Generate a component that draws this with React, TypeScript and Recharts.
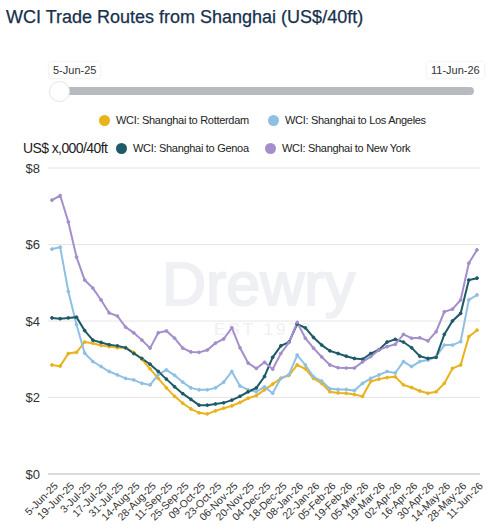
import React from "react";
import { LineChart, Line, XAxis, YAxis, CartesianGrid } from "recharts";

const dates = [
  "5-Jun-25", "12-Jun-25", "19-Jun-25", "26-Jun-25", "3-Jul-25", "10-Jul-25", "17-Jul-25", "24-Jul-25",
  "31-Jul-25", "7-Aug-25", "14-Aug-25", "21-Aug-25", "28-Aug-25", "4-Sep-25", "11-Sep-25", "18-Sep-25",
  "25-Sep-25", "02-Oct-25", "09-Oct-25", "16-Oct-25", "23-Oct-25", "30-Oct-25", "06-Nov-25", "13-Nov-25",
  "20-Nov-25", "27-Nov-25", "04-Dec-25", "11-Dec-25", "18-Dec-25", "25-Dec-25", "08-Jan-26", "15-Jan-26",
  "22-Jan-26", "29-Jan-26", "05-Feb-26", "12-Feb-26", "19-Feb-26", "26-Feb-26", "05-Mar-26", "12-Mar-26",
  "19-Mar-26", "26-Mar-26", "02-Apr-26", "09-Apr-26", "16-Apr-26", "23-Apr-26", "30-Apr-26", "07-May-26",
  "14-May-26", "21-May-26", "28-May-26", "04-Jun-26", "11-Jun-26",
];

const rotterdam = [
  2.85, 2.82, 3.15, 3.18, 3.45, 3.42, 3.36, 3.33, 3.3, 3.3, 3.18, 3.0, 2.75, 2.5, 2.25, 2.03,
  1.85, 1.7, 1.6, 1.57, 1.65, 1.72, 1.78, 1.87, 1.98, 2.05, 2.2, 2.35, 2.5, 2.58, 2.85, 2.75,
  2.5, 2.37, 2.15, 2.12, 2.11, 2.08, 2.03, 2.42, 2.48, 2.52, 2.54, 2.33, 2.26, 2.17, 2.11, 2.15,
  2.37, 2.76, 2.85, 3.59, 3.76,
];

const losAngeles = [
  5.88, 5.93, 4.77, 3.9, 3.16, 2.94, 2.81, 2.68, 2.59, 2.5, 2.46, 2.37, 2.33, 2.6, 2.72, 2.58,
  2.4, 2.25, 2.2, 2.2, 2.25, 2.4, 2.68, 2.3, 2.2, 2.15, 2.28, 2.11, 2.5, 2.6, 3.11, 2.85,
  2.54, 2.43, 2.23, 2.21, 2.21, 2.18, 2.37, 2.5, 2.59, 2.68, 2.64, 2.94, 2.81, 2.94, 2.98, 3.07,
  3.37, 3.37, 3.46, 4.55, 4.68,
];

const genoa = [
  4.08, 4.06, 4.08, 4.1, 3.75, 3.5, 3.44, 3.38, 3.35, 3.3, 3.15, 3.02, 2.87, 2.68, 2.48, 2.28,
  2.1, 1.95, 1.8, 1.8, 1.83, 1.86, 1.93, 2.03, 2.15, 2.25, 2.55, 3.05, 3.35, 3.45, 3.92, 3.82,
  3.57, 3.37, 3.22, 3.15, 3.08, 3.02, 3.0, 3.15, 3.25, 3.45, 3.52, 3.45, 3.3, 3.08, 3.02, 3.05,
  3.65, 4.0, 4.2, 5.07, 5.12,
];

const newYork = [
  7.16, 7.28, 6.59, 5.67, 5.07, 4.86, 4.55, 4.21, 4.13, 3.84, 3.69, 3.5, 3.29, 3.69, 3.74, 3.55,
  3.29, 3.19, 3.18, 3.24, 3.42, 3.53, 3.82, 3.3, 2.9, 2.76, 2.92, 2.74, 3.15, 3.44, 3.96, 3.55,
  3.29, 3.06, 2.85, 2.78, 2.77, 2.77, 2.93, 3.07, 3.24, 3.33, 3.39, 3.65, 3.55, 3.56, 3.48, 3.72,
  4.24, 4.31, 4.55, 5.51, 5.86,
];

const yTicks = [0, 2, 4, 6, 8];

const seriesNames = [
  "WCI: Shanghai to Rotterdam",
  "WCI: Shanghai to Los Angeles",
  "WCI: Shanghai to Genoa",
  "WCI: Shanghai to New York",
];
const seriesKeys = ["rotterdam", "losAngeles", "genoa", "newYork"];
const seriesColors = ["#e8b31c", "#8fc0e4", "#1f5a68", "#a48fcc"];

const data = dates.map((d, i) => ({
  date: d,
  rotterdam: rotterdam[i],
  losAngeles: losAngeles[i],
  genoa: genoa[i],
  newYork: newYork[i],
}));

const FONT = '"Liberation Sans", Arial, Helvetica, sans-serif';

const XTick = (props: any) => {
  const { x, y, payload } = props;
  const ax = x + 4;
  const ay = y + 2;
  return (
    <text
      x={ax}
      y={ay}
      transform={`rotate(-45 ${ax} ${ay})`}
      textAnchor="end"
      fontSize={10.5}
      fill="#333"
      fontFamily={FONT}
      dy="0.35em"
    >
      {payload.value}
    </text>
  );
};

const YTick = (props: any) => {
  const { x, y, payload } = props;
  return (
    <text x={x} y={y} textAnchor="end" fontSize={13} fill="#333" fontFamily={FONT} dy="0.36em">
      {`$${payload.value}`}
    </text>
  );
};

const LegendItem = ({ color, label, left, top }: any) => (
  <div
    style={{
      position: "absolute",
      left,
      top,
      display: "flex",
      alignItems: "center",
      fontFamily: FONT,
      fontSize: 11,
      letterSpacing: -0.3,
      color: "#222",
      whiteSpace: "nowrap",
    }}
  >
    <span
      style={{
        display: "inline-block",
        width: 11,
        height: 11,
        borderRadius: "50%",
        background: color,
        marginRight: 6,
      }}
    />
    {label}
  </div>
);

export default function App() {
  return (
    <div
      style={{
        position: "absolute",
        left: 0,
        top: 0,
        width: 500,
        height: 532,
        background: "#fff",
        overflow: "hidden",
        fontFamily: FONT,
      }}
    >
      <div
        style={{
          position: "absolute",
          left: 6,
          top: 6,
          fontSize: 18,
          lineHeight: "22px",
          color: "#16304d",
          whiteSpace: "nowrap",
          WebkitTextStroke: "0.25px #16304d",
        }}
      >
        WCI Trade Routes from Shanghai (US$/40ft)
      </div>

      {/* range slider */}
      <div
        style={{
          position: "absolute",
          left: 49,
          top: 62,
          padding: "1px 4px",
          fontSize: 11,
          color: "#333",
          background: "#fff",
          boxShadow: "0 0 2px rgba(0,0,0,0.12)",
          lineHeight: "14px",
        }}
      >
        {dates[0]}
      </div>
      <div
        style={{
          position: "absolute",
          left: 427,
          top: 62,
          padding: "1px 4px",
          fontSize: 11,
          color: "#333",
          background: "#fff",
          boxShadow: "0 0 2px rgba(0,0,0,0.12)",
          lineHeight: "14px",
        }}
      >
        {dates[dates.length - 1]}
      </div>
      <div
        style={{
          position: "absolute",
          left: 55,
          top: 87,
          width: 419,
          height: 8,
          borderRadius: 4,
          background: "#b7bbbf",
        }}
      />
      <div
        style={{
          position: "absolute",
          left: 49,
          top: 81,
          width: 19,
          height: 19,
          borderRadius: "50%",
          background: "#fff",
          border: "1px solid #e2e4e6",
        }}
      />

      {/* legend */}
      <LegendItem color={seriesColors[0]} label={seriesNames[0]} left={99} top={114} />
      <LegendItem color={seriesColors[1]} label={seriesNames[1]} left={268} top={114} />
      <div
        style={{
          position: "absolute",
          left: 23,
          top: 140,
          fontSize: 14,
          letterSpacing: -0.6,
          color: "#222",
          whiteSpace: "nowrap",
        }}
      >
        US$ x,000/40ft
      </div>
      <LegendItem color={seriesColors[2]} label={seriesNames[2]} left={116} top={142} />
      <LegendItem color={seriesColors[3]} label={seriesNames[3]} left={265} top={142} />

      {/* watermark */}
      <div
        style={{
          position: "absolute",
          left: 162,
          top: 249,
          fontSize: 61,
          lineHeight: "normal",
          color: "#eef0f3",
          WebkitTextStroke: "2px #eef0f3",
          whiteSpace: "nowrap",
        }}
      >
        Drewry
      </div>
      <div
        style={{
          position: "absolute",
          left: 214,
          top: 320,
          fontSize: 17,
          color: "#eef0f3",
          letterSpacing: 3,
          whiteSpace: "nowrap",
        }}
      >
        EST 1970
      </div>

      <div style={{ position: "absolute", left: 0, top: 100 }}>
        <LineChart
          width={500}
          height={432}
          data={data}
          margin={{ top: 68, right: 20, bottom: 0, left: 0 }}
        >
          <CartesianGrid vertical={false} stroke="#e6e6e6" />
          <XAxis
            dataKey="date"
            interval={1}
            height={58}
            tickLine={false}
            axisLine={{ stroke: "#c4c4c4" }}
            padding={{ left: 4, right: 3 }}
            tick={<XTick />}
            tickMargin={2}
          />
          <YAxis
            domain={[0, 8]}
            ticks={yTicks}
            width={48}
            tickLine={false}
            axisLine={false}
            tick={<YTick />}
            tickMargin={2}
          />
          {seriesKeys.map((k, i) => (
            <Line
              key={k}
              dataKey={k}
              name={seriesNames[i]}
              type="linear"
              stroke={seriesColors[i]}
              strokeWidth={2}
              dot={{ r: 1.4, fill: seriesColors[i], stroke: seriesColors[i], strokeWidth: 1 }}
              isAnimationActive={false}
            />
          ))}
        </LineChart>
      </div>
    </div>
  );
}
